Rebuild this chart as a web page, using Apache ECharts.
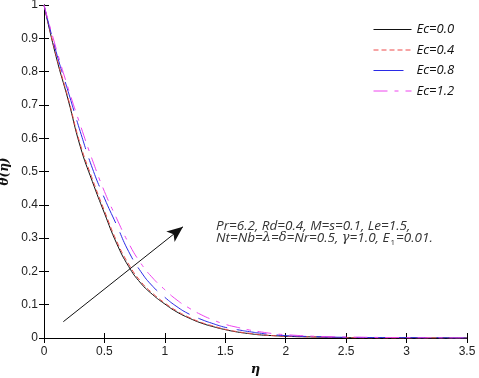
<!DOCTYPE html>
<html>
<head>
<meta charset="utf-8">
<script src="https://cdn.jsdelivr.net/npm/echarts@6/dist/echarts.min.js"></script>
<style>
html, body { margin: 0; padding: 0; background: #fff; }
#chart { width: 479px; height: 378px; }
</style>
</head>
<body>
<div id="chart"></div>
<script>
// 数据
var eta = [0, 0.1, 0.2, 0.3, 0.4, 0.5, 0.6, 0.7, 0.8, 0.9, 1.0, 1.1, 1.2, 1.3, 1.4, 1.5, 1.6, 1.7, 1.8, 1.9, 2.0, 2.25, 2.5, 3.0, 3.5];
var ec00 = [1, 0.845, 0.715, 0.575, 0.47, 0.375, 0.285, 0.215, 0.165, 0.13, 0.102, 0.078, 0.06, 0.045, 0.034, 0.025, 0.018, 0.013, 0.009, 0.007, 0.005, 0.003, 0.001, 0, 0];
var ec04 = [1, 0.85, 0.72, 0.582, 0.478, 0.382, 0.292, 0.222, 0.17, 0.134, 0.105, 0.081, 0.062, 0.047, 0.036, 0.026, 0.019, 0.014, 0.01, 0.007, 0.005, 0.003, 0.001, 0, 0];
var ec08 = [1, 0.86, 0.74, 0.62, 0.51, 0.42, 0.34, 0.26, 0.2, 0.155, 0.122, 0.094, 0.072, 0.056, 0.043, 0.032, 0.025, 0.019, 0.014, 0.01, 0.007, 0.004, 0.002, 0.001, 0];
var ec12 = [1, 0.87, 0.75, 0.64, 0.535, 0.44, 0.36, 0.285, 0.225, 0.18, 0.145, 0.114, 0.09, 0.07, 0.054, 0.041, 0.032, 0.024, 0.018, 0.013, 0.01, 0.005, 0.003, 0.001, 0];
var names = ["Ec=0.0", "Ec=0.4", "Ec=0.8", "Ec=1.2"];
// 箭头（数据坐标）
var arrowFrom = [0.16, 0.049];
var arrowTo = [1.15, 0.334];

function pairs(ys) {
    var out = [];
    for (var i = 0; i < eta.length; i++) {
        out.push([eta[i], ys[i]]);
    }
    return out;
}

var chart = echarts.init(document.getElementById("chart"));

var tickFont = { fontFamily: "Liberation Sans", fontSize: 12, color: "#222" };

function mkSeries(name, ys, color, type) {
    return {
        name: name,
        type: "line",
        data: pairs(ys),
        smooth: true,
        symbol: "none",
        lineStyle: { color: color, width: 1, type: type },
        itemStyle: { color: color }
    };
}

var series = [
    mkSeries(names[0], ec00, "#111111", "solid"),
    mkSeries(names[1], ec04, "#ee4b4b", [5, 3]),
    mkSeries(names[2], ec08, "#2a2ae6", [30, 10]),
    mkSeries(names[3], ec12, "#ee44ee", [14, 7, 4, 7])
];

series[0].markLine = {
    silent: true,
    symbol: ["none", "arrow"],
    symbolSize: [10, 16],
    label: { show: false },
    lineStyle: { color: "#111", width: 1, type: "solid" },
    data: [[{ coord: arrowFrom }, { coord: arrowTo }]]
};

var option = {
    animation: false,
    grid: { left: 44, right: 12, top: 5, bottom: 40, containLabel: false, outerBoundsMode: "none" },
    legend: {
        orient: "vertical",
        left: 368,
        top: 18,
        itemWidth: 38,
        itemHeight: 14,
        itemGap: 7.5,
        data: names,
        itemStyle: { opacity: 0 },
        lineStyle: { width: 1 },
        textStyle: { fontFamily: "Open Sans", fontStyle: "italic", fontSize: 13, color: "#111" }
    },
    xAxis: [
        {
            type: "value",
            min: 0,
            max: 3.5,
            interval: 0.5,
            name: "η",
            nameLocation: "middle",
            nameGap: 24,
            nameTextStyle: { fontFamily: "DejaVu Serif", fontStyle: "italic", fontWeight: "bold", fontSize: 13, color: "#111" },
            axisLine: { lineStyle: { color: "#000", width: 1 } },
            axisTick: { inside: true, length: 5, lineStyle: { color: "#000" } },
            axisLabel: Object.assign({ margin: 8 }, tickFont),
            splitLine: { show: false }
        },
        {
            type: "value",
            position: "top",
            min: 0,
            max: 3.5,
            interval: 0.5,
            axisLine: { show: true, lineStyle: { color: "#000", width: 1 } },
            axisTick: { inside: true, length: 5, lineStyle: { color: "#000" } },
            axisLabel: { show: false },
            splitLine: { show: false }
        }
    ],
    yAxis: [
        {
            type: "value",
            min: 0,
            max: 1,
            interval: 0.1,
            name: "θ(η)",
            nameLocation: "middle",
            nameGap: 31,
            nameRotate: 90,
            nameTextStyle: { fontFamily: "DejaVu Serif", fontStyle: "italic", fontWeight: "bold", fontSize: 12, color: "#111" },
            axisLine: { show: true, lineStyle: { color: "#000", width: 1 } },
            axisTick: { inside: true, length: 5, lineStyle: { color: "#000" } },
            axisLabel: Object.assign({ margin: 6 }, tickFont),
            splitLine: { show: false }
        },
        {
            type: "value",
            position: "right",
            min: 0,
            max: 1,
            interval: 0.1,
            axisLine: { show: true, lineStyle: { color: "#000", width: 1 } },
            axisTick: { inside: true, length: 5, lineStyle: { color: "#000" } },
            axisLabel: { show: false },
            splitLine: { show: false }
        }
    ],
    graphic: [
        {
            type: "text",
            left: 216,
            top: 219,
            style: {
                text: "{a|Pr=6.2, Rd=0.4, M=s=0.1, Le=1.5,}\n{a|Nt=Nb=}{g|λ}{a|=}{g|δ}{a|=Nr=0.5, }{g|γ}{a|=1.0, E}{s|1}{a|=0.01.}",
                rich: {
                    a: { fontFamily: "Open Sans", fontStyle: "italic", fontSize: 13.5, lineHeight: 12, fill: "#333" },
                    g: { fontFamily: "DejaVu Serif", fontStyle: "italic", fontSize: 13, lineHeight: 12, fill: "#333" },
                    s: { fontFamily: "Open Sans", fontSize: 8, lineHeight: 12, fill: "#333", padding: [10, 1, 0, 1] }
                }
            }
        }
    ],
    series: series
};

chart.setOption(option);
</script>
</body>
</html>
